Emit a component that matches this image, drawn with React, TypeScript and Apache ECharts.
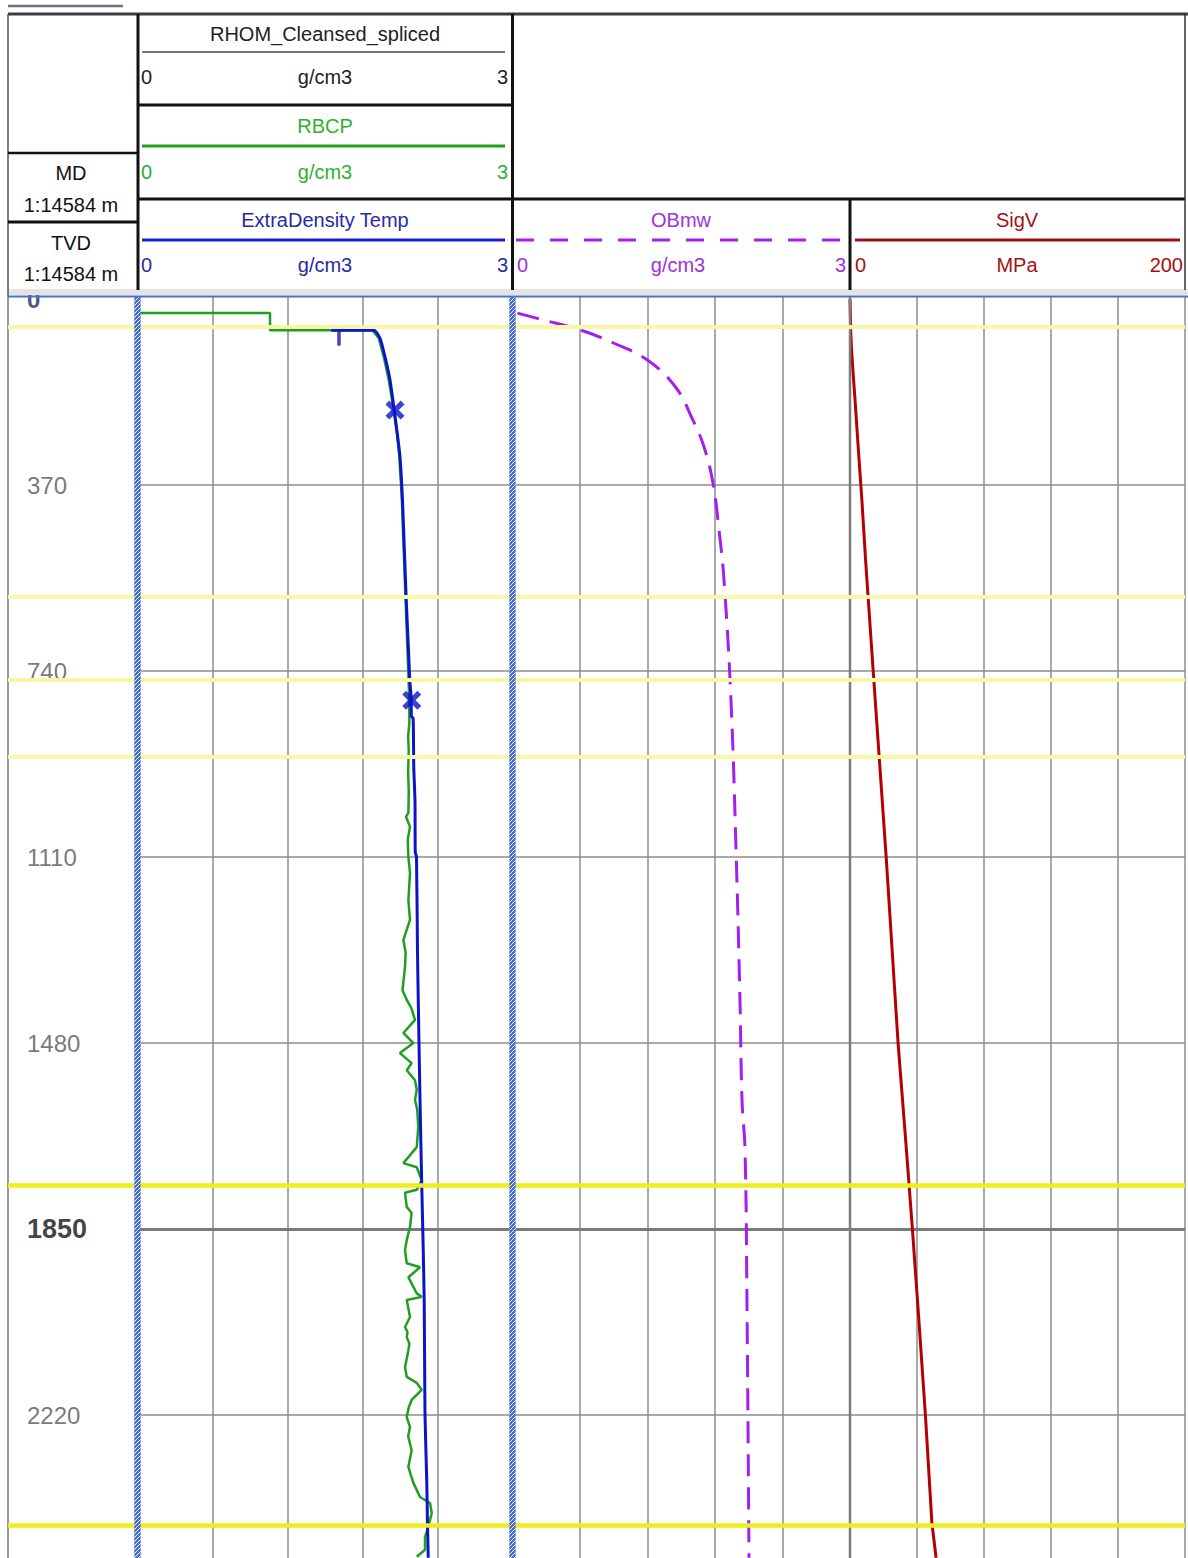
import React, { useEffect, useRef } from 'react';
import * as echarts from 'echarts';

// ---------- depth axis (m, increasing downwards) ----------
const Y_MIN = -6;
const Y_MAX = 2504.4;
const DEPTH_LABELS = [0, 370, 740, 1110, 1480, 1850, 2220];
const GRID_DEPTHS = [370, 740, 1110, 1480, 2220];
const GRID_DEPTHS_MAJOR = [1850];
const TOPS_MINOR = [56, 593, 758, 911];
const TOPS_MAJOR = [1762, 2439];

// ---------- curves: [value, depth m] ----------
const RBCP: number[][] = [
  [0.02, 28], [1.06, 28], [1.06, 62], [1.6, 62], [1.88, 62], [1.93, 78], [1.97, 115], [2.01, 161],
  [2.045, 214], [2.075, 267], [2.095, 314], [2.115, 400], [2.13, 500], [2.145, 599], [2.16, 700],
  [2.172, 780], [2.175, 843], [2.165, 870], [2.17, 897], [2.165, 940], [2.17, 980], [2.167, 1022],
  [2.148, 1030], [2.18, 1050], [2.162, 1075], [2.167, 1110], [2.18, 1142], [2.167, 1196], [2.18, 1235],
  [2.127, 1275], [2.145, 1300], [2.14, 1329], [2.12, 1375], [2.154, 1394], [2.19, 1410], [2.22, 1434],
  [2.127, 1460], [2.207, 1480], [2.1, 1500], [2.193, 1520], [2.154, 1534], [2.22, 1554], [2.234, 1573],
  [2.22, 1593], [2.238, 1613], [2.246, 1647], [2.234, 1687], [2.127, 1719], [2.234, 1727], [2.274, 1753],
  [2.234, 1772], [2.14, 1778], [2.154, 1806], [2.193, 1818], [2.18, 1846], [2.154, 1872], [2.14, 1892],
  [2.154, 1918], [2.26, 1926], [2.167, 1946], [2.234, 1978], [2.274, 1985], [2.154, 1991], [2.18, 2025],
  [2.14, 2045], [2.16, 2055], [2.154, 2065], [2.175, 2078], [2.167, 2091], [2.14, 2125], [2.154, 2144],
  [2.234, 2156], [2.274, 2170], [2.193, 2190], [2.17, 2205], [2.154, 2224], [2.18, 2244], [2.165, 2262],
  [2.193, 2290], [2.167, 2323], [2.185, 2338], [2.207, 2355], [2.26, 2383], [2.34, 2395], [2.354, 2415],
  [2.326, 2443], [2.3, 2463], [2.3, 2488], [2.234, 2502],
];

const EXTRA_DENSITY: number[][] = [
  [1.55, 62], [1.89, 62], [1.94, 78], [1.98, 115], [2.02, 161], [2.05, 214], [2.078, 267], [2.1, 314],
  [2.12, 400], [2.135, 500], [2.15, 599], [2.168, 700], [2.178, 758], [2.19, 798], [2.19, 830],
  [2.205, 834], [2.21, 930], [2.22, 1000], [2.222, 1100], [2.232, 1110], [2.24, 1300], [2.246, 1394],
  [2.26, 1593], [2.274, 1762], [2.286, 1892], [2.294, 2000], [2.3, 2220], [2.314, 2350], [2.32, 2440],
  [2.326, 2504],
];
const EXTRA_MARKS: number[][] = [[2.06, 221], [2.194, 798]];
const EXTRA_TICK: number[][] = [[1.612, 62]];

const OBMW: number[][] = [
  [0.044, 28], [0.28, 42], [0.609, 62], [0.902, 88], [1.196, 121], [1.449, 175], [1.604, 241],
  [1.702, 294], [1.782, 366], [1.836, 460], [1.88, 559], [1.942, 798], [1.987, 1096], [2.022, 1394],
  [2.04, 1593], [2.067, 1693], [2.084, 1991], [2.102, 2504],
];

const SIGV: number[][] = [
  [0, 0], [0.2, 28], [0.4, 62], [0.9, 100], [1.9, 150], [3.0, 200], [5.0, 300], [7.1, 400], [9.3, 519],
  [13.8, 738], [21.6, 1110], [28.7, 1480], [33.7, 1693], [37.3, 1852], [41.0, 2025], [45.1, 2224],
  [48.9, 2435], [51.4, 2504],
];

const DENSITY_RANGE = [0, 3];
const SIGV_RANGE = [0, 200];

const FONT = '"Liberation Sans", Arial, sans-serif';
const GREEN = '#1f9f1f';
const BLUE = '#0a14c8';
const PURPLE = '#a21ff0';
const RED = '#b40000';

const PLOT_TOP = 296;
const PLOT_H = 1262;

function hl(x1: number, x2: number, y: number, w: number, stroke: string, z = 62, lineDash?: number[]) {
  return { type: 'line', silent: true, z, shape: { x1, y1: y, x2, y2: y }, style: { stroke, lineWidth: w, lineDash } };
}
function vl(x: number, y1: number, y2: number, w: number, stroke: string, z = 62) {
  return { type: 'line', silent: true, z, shape: { x1: x, y1, x2: x, y2 }, style: { stroke, lineWidth: w } };
}
function tx(text: string, x: number, y: number, fill: string, align = 'center', size = 20) {
  return {
    type: 'text', silent: true, z: 63, x, y,
    style: { text, fill, fontSize: size, fontFamily: FONT, textAlign: align, align, textVerticalAlign: 'middle', verticalAlign: 'middle' },
  };
}

export default function App() {
  const ref = useRef<HTMLDivElement>(null);
  useEffect(() => {
    if (!ref.current) return;
    const chart = echarts.init(ref.current, undefined, { renderer: 'svg' });

    const cv = document.createElement('canvas');
    cv.width = 4; cv.height = 4;
    const ctx = cv.getContext('2d');
    if (ctx) {
      ctx.fillStyle = '#4a6ecf'; ctx.fillRect(0, 0, 4, 4);
      ctx.strokeStyle = 'rgba(255,255,255,0.9)'; ctx.lineWidth = 1;
      ctx.beginPath(); ctx.moveTo(-1, 5); ctx.lineTo(5, -1); ctx.stroke();
      ctx.beginPath(); ctx.moveTo(-1, 1); ctx.lineTo(1, -1); ctx.stroke();
      ctx.beginPath(); ctx.moveTo(3, 5); ctx.lineTo(5, 3); ctx.stroke();
    }
    const hatch: any = { image: cv.toDataURL(), repeat: 'repeat', imageWidth: 4, imageHeight: 4 };

    const grids = [
      { left: 8, width: 130 },
      { left: 137.5, width: 375 },
      { left: 512.5, width: 337.5 },
      { left: 850, width: 335 },
    ].map(g => ({ ...g, top: PLOT_TOP, height: PLOT_H, containLabel: false, show: false }));

    const splitStyle = { show: true, lineStyle: { color: '#8c8c8c', width: 1.5 } };
    const xAxes = [
      { min: 0, max: 1, splitLine: { show: false } },
      { min: DENSITY_RANGE[0], max: DENSITY_RANGE[1], interval: 0.6, splitLine: splitStyle },
      { min: DENSITY_RANGE[0], max: DENSITY_RANGE[1], interval: 0.6, splitLine: splitStyle },
      { min: SIGV_RANGE[0], max: SIGV_RANGE[1], interval: 40, splitLine: splitStyle },
    ].map((a, i) => ({
      type: 'value', gridIndex: i, position: 'top', ...a,
      axisLine: { show: false }, axisTick: { show: false }, axisLabel: { show: false },
    }));
    const yAxes = [0, 1, 2, 3].map(i => ({
      type: 'value', gridIndex: i, inverse: true, min: Y_MIN, max: Y_MAX,
      axisLine: { show: false }, axisTick: { show: false }, axisLabel: { show: false }, splitLine: { show: false },
    }));

    const labelFor = (d: number) => {
      if (d === 1850) return { color: '#111', fontWeight: 'bold', fontSize: 27, fontFamily: FONT };
      if (d === 0) return { color: '#1b2a6b', fontWeight: 'bold', fontSize: 24, fontFamily: FONT };
      return { color: '#555', fontSize: 24, fontFamily: FONT };
    };

    const gridLineSeries = [1, 2, 3].map(i => ({
      type: 'line', xAxisIndex: i, yAxisIndex: i, data: [], silent: true,
      markLine: {
        z: 1, silent: true, symbol: 'none', label: { show: false },
        data: [
          ...GRID_DEPTHS.map(d => ({ yAxis: d, lineStyle: { color: '#8c8c8c', width: 1.5, type: 'solid' } })),
          ...GRID_DEPTHS_MAJOR.map(d => ({ yAxis: d, lineStyle: { color: '#7a7a7a', width: 3, type: 'solid' } })),
        ],
      },
    }));
    const topsSeries = [0, 1, 2, 3].map(i => ({
      type: 'line', xAxisIndex: i, yAxisIndex: i, data: [], silent: true,
      markLine: {
        z: 5, silent: true, symbol: 'none', label: { show: false },
        data: [
          ...TOPS_MINOR.map(d => ({ yAxis: d, lineStyle: { color: '#f7f7a6', width: 4, type: 'solid' } })),
          ...TOPS_MAJOR.map(d => ({ yAxis: d, lineStyle: { color: '#eeee1c', width: 4.5, type: 'solid' } })),
        ],
      },
    }));

    const graphics: any[] = [
      // plot decorations
      vl(8, PLOT_TOP, 1558, 1.5, '#777', 3),
      vl(850, PLOT_TOP, 1558, 2.5, '#7c7c7c', 3),
      { type: 'rect', silent: true, z: 10, shape: { x: 134.5, y: PLOT_TOP, width: 6, height: PLOT_H }, style: { fill: '#7f99dc' } },
      { type: 'rect', silent: true, z: 11, shape: { x: 134.5, y: PLOT_TOP, width: 6, height: PLOT_H }, style: { fill: hatch } },
      { type: 'rect', silent: true, z: 10, shape: { x: 509.5, y: PLOT_TOP, width: 6, height: PLOT_H }, style: { fill: '#7f99dc' } },
      { type: 'rect', silent: true, z: 11, shape: { x: 509.5, y: PLOT_TOP, width: 6, height: PLOT_H }, style: { fill: hatch } },
      // header background
      { type: 'rect', silent: true, z: 40, shape: { x: 0, y: 0, width: 1188, height: 295 }, style: { fill: '#ffffff' } },
      { type: 'rect', silent: true, z: 41, shape: { x: 8, y: 289, width: 1180, height: 6 }, style: { fill: '#e4e4e4' } },
      hl(8, 1188, 296.5, 2, '#4a72c4'),
      hl(8, 123, 6, 2.5, '#6f7580'),
      hl(8, 1188, 14, 3, '#3c3c3c'),
      vl(8, 14, 296, 1.5, '#555'),
      vl(138, 14, 290, 3, '#111'),
      hl(8, 138, 153, 2.5, '#111'),
      hl(8, 138, 222, 3, '#111'),
      vl(512.5, 14, 290, 3, '#111'),
      hl(138, 512, 105, 3, '#111'),
      hl(138, 1185, 199, 3, '#111'),
      vl(850, 199, 290, 3, '#111'),
      vl(1185, 14, 290, 1.5, '#333'),
      hl(142, 505, 52, 1.5, '#444'),
      hl(142, 505, 146, 3, GREEN),
      hl(142, 505, 240, 3, '#1a1ad0'),
      hl(516, 845, 240, 3, PURPLE, 62, [18, 16]),
      hl(855, 1180, 240, 3, '#a01010'),
      // header texts
      tx('MD', 71, 173, '#111'),
      tx('1:14584 m', 71, 205, '#111'),
      tx('TVD', 71, 243, '#111'),
      tx('1:14584 m', 71, 274, '#111'),
      tx('RHOM_Cleansed_spliced', 325, 34, '#222'),
      tx('0', 141, 77, '#222', 'left'), tx('g/cm3', 325, 77, '#222'), tx('3', 508, 77, '#222', 'right'),
      tx('RBCP', 325, 126, '#30b030'),
      tx('0', 141, 172, '#30b030', 'left'), tx('g/cm3', 325, 172, '#30b030'), tx('3', 508, 172, '#30b030', 'right'),
      tx('ExtraDensity Temp', 325, 220, '#2a2aa8'),
      tx('0', 141, 265, '#2a2aa8', 'left'), tx('g/cm3', 325, 265, '#2a2aa8'), tx('3', 508, 265, '#2a2aa8', 'right'),
      tx('OBmw', 681, 220, '#a030e0'),
      tx('0', 517, 265, '#a030e0', 'left'), tx('g/cm3', 678, 265, '#a030e0'), tx('3', 846, 265, '#a030e0', 'right'),
      tx('SigV', 1017, 220, '#a51010'),
      tx('0', 855, 265, '#a51010', 'left'), tx('MPa', 1017, 265, '#a51010'), tx('200', 1183, 265, '#a51010', 'right'),
    ];

    const X_PATH = 'path://M2,0L5,3L8,0L10,2L7,5L10,8L8,10L5,7L2,10L0,8L3,5L0,2Z';

    chart.setOption({
      animation: false,
      backgroundColor: '#ffffff',
      grid: grids,
      xAxis: xAxes,
      yAxis: yAxes,
      graphic: { elements: graphics },
      series: [
        {
          type: 'scatter', xAxisIndex: 0, yAxisIndex: 0, symbolSize: 0, silent: true, z: 3,
          data: DEPTH_LABELS.map(d => ({ value: [0.146, d], label: labelFor(d) })),
          label: { show: true, position: 'right', distance: 0, formatter: (p: any) => String(p.value[1]) },
        },
        ...gridLineSeries,
        ...topsSeries,
        {
          name: 'RBCP', type: 'line', xAxisIndex: 1, yAxisIndex: 1, data: RBCP, symbol: 'none', silent: true, z: 2,
          lineStyle: { color: GREEN, width: 2.5 },
        },
        {
          name: 'ExtraDensity Temp', type: 'line', xAxisIndex: 1, yAxisIndex: 1, data: EXTRA_DENSITY, symbol: 'none', silent: true, z: 3,
          smooth: 0.2,
          lineStyle: { color: BLUE, width: 3 },
        },
        {
          type: 'scatter', xAxisIndex: 1, yAxisIndex: 1, data: EXTRA_MARKS, symbol: X_PATH, symbolSize: 19, silent: true, z: 4,
          itemStyle: { color: BLUE },
        },
        {
          type: 'scatter', xAxisIndex: 1, yAxisIndex: 1, data: EXTRA_TICK, symbol: 'rect', symbolSize: [3.5, 17], symbolOffset: [0, 7], silent: true, z: 4,
          itemStyle: { color: '#1a1aa0' },
        },
        {
          name: 'OBmw', type: 'line', xAxisIndex: 2, yAxisIndex: 2, data: OBMW, symbol: 'none', silent: true, z: 2,
          smooth: 0.4,
          lineStyle: { color: PURPLE, width: 3, type: [22, 11] },
        },
        {
          name: 'SigV', type: 'line', xAxisIndex: 3, yAxisIndex: 3, data: SIGV, symbol: 'none', silent: true, z: 2,
          lineStyle: { color: RED, width: 3 },
        },
      ],
    } as any);

    return () => chart.dispose();
  }, []);

  return <div ref={ref} style={{ position: 'absolute', left: 0, top: 0, width: 1188, height: 1558 }} />;
}
